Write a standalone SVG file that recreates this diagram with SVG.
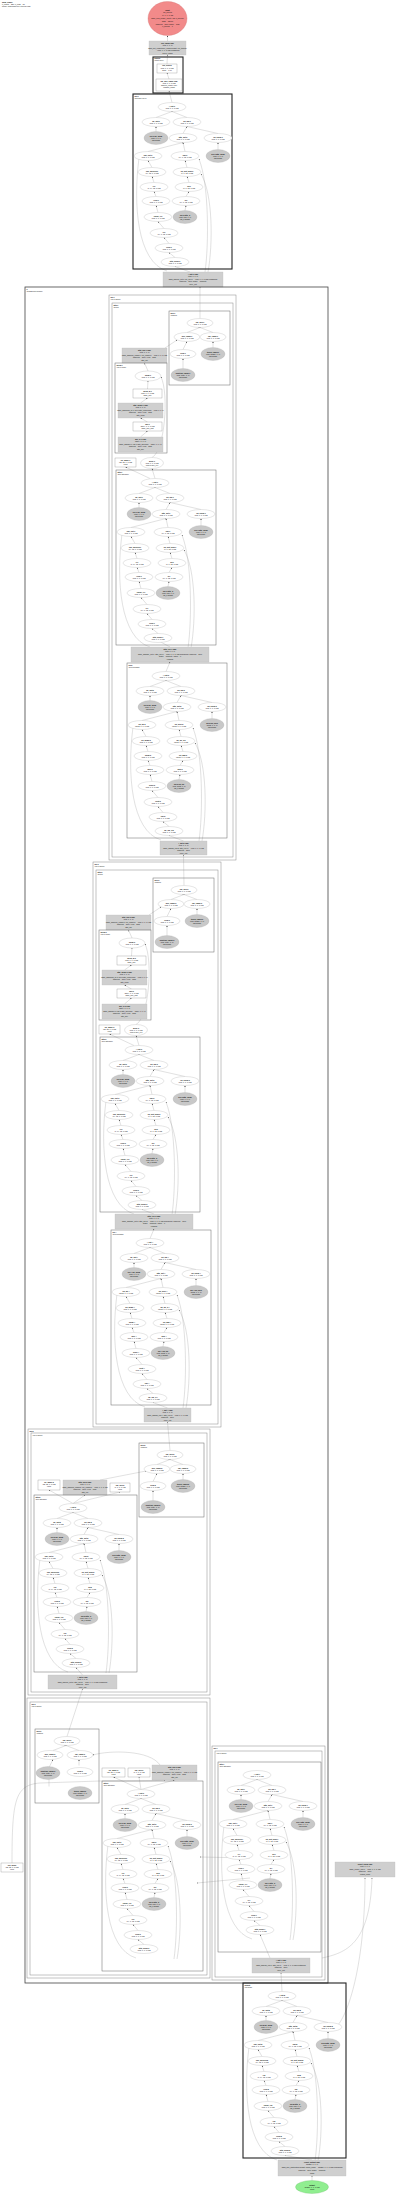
<svg xmlns="http://www.w3.org/2000/svg" xmlns:xlink="http://www.w3.org/1999/xlink" width="400" height="2195" viewBox="0 0 400 2195">
<style>
text{font-family:"Liberation Sans",Arial,sans-serif;font-size:1.8px;text-anchor:middle;fill:#111}
.b{font-weight:bold}
.l{text-anchor:start}
.w{fill:#fff;stroke:#999;stroke-width:.25}
.g{fill:#c8c8c8;stroke:#aaa;stroke-width:.25}
.wb{fill:#fff;stroke:#777;stroke-width:.3}
.gb{fill:#cfcfcf;stroke:#bbb;stroke-width:.3}
.cl{fill:none;stroke:#666;stroke-width:.5}
.cs{fill:none;stroke:#888;stroke-width:.5}
.ck{fill:none;stroke:#222;stroke-width:1.1}
.cx{fill:none;stroke:#444;stroke-width:.8}
.ed path{fill:none;stroke:#999;stroke-width:.3;marker-end:url(#ah)}
</style>
<defs>
<marker id="ah" viewBox="0 0 4 4" refX="4" refY="2" markerUnits="userSpaceOnUse" markerWidth="1.4" markerHeight="1.4" orient="auto"><path d="M0,0L4,2L0,4z" fill="#333"/></marker>
<g id="te" class="ed">
<path d="M23,23.5L39,17.5"/><path d="M54,23.5L39,17.5"/><path d="M23,37.5L23,32.5"/><path d="M50,39.5L54,32.5"/><path d="M85,39.5L54,32.5"/><path d="M15,57.5L50,48.5"/><path d="M52,57.5L50,48.5"/><path d="M85,55.5L85,48.5"/><path d="M19,73.5L15,66.5"/><path d="M54,73.5L52,66.5"/><path d="M21,88.5L19,82.5"/><path d="M56,88.5L54,82.5"/><path d="M23,102.5L21,97.5"/><path d="M53,102.5L56,97.5"/><path d="M25,118.5L23,111.5"/><path d="M52,116.5L53,111.5"/><path d="M31,134.5L25,127.5"/><path d="M36,149.5L31,143.5"/><path d="M42,163.5L36,158.5"/>
<path d="M72,178C76,150 76,90 66,65"/><path d="M75,178C80,150 80,100 68,80"/><path d="M34,177C4,168 0,110 6,64"/>
</g>
<g id="t1" class="ed"><path d="M18,21.5L31,16.5"/><path d="M44,21.5L31,16.5"/><path d="M14,38.5L18,30.5"/><path d="M44,36.5L44,30.5"/><path d="M14,57.5L14,47.5"/></g>
<g id="t2" class="ed"><path d="M32.5,26L33,18"/><path d="M25.5,40L32.5,35"/><path d="M32.5,59L25.5,55"/><path d="M25.5,74L32.5,68"/><path d="M37,94.5C50,88 54,30 46,14"/></g>
</defs>
<rect width="400" height="2195" fill="#fff"/>
<g id="title"><text class="l b" x="2" y="2.6">ggml_graph</text><text class="l" x="2" y="4.6">n_nodes = 226, n_leafs = 87</text><text class="l" x="2" y="6.6">model: gpt2 graph for 7 tokens (f32)</text></g>

<g id="edges">
<g class="ed">
<path d="M167.5,41L167.5,35.5"/><path d="M167,64L167.5,55"/><path d="M169,79L167,73"/><path d="M172,102.5L169,91"/><path d="M190,272L175,266.5"/>
<path d="M200,318.5L200,287"/><path d="M165,348L177,340"/><path d="M148,371L144.5,363"/><path d="M150,478.5L125.5,467"/><path d="M155,478.5L152,468.5"/><path d="M170,647L158,640.5"/><path d="M166,671.5L170,662"/><path d="M183.5,841L169,835.5"/><path d="M184,885.5L183.5,855"/>
<path d="M149,915L161,907"/><path d="M132,938L128.5,930"/><path d="M134,1045.5L109.5,1034"/><path d="M139,1045.5L136,1035.5"/><path d="M154,1214L142,1209.5"/><path d="M150,1238.5L154,1229"/><path d="M167.5,1408L153,1402.5"/><path d="M170,1450.5L167.5,1422"/>
<path d="M100,1480L146,1471"/><path d="M73,1503.5L85,1495"/><path d="M73,1503.5L49,1490"/><path d="M73,1503.5L120,1492"/><path d="M82.5,1675L76,1667.5"/><path d="M67,1736.5L82.5,1689"/>
<path d="M12,1863C12,1800 15,1785 40,1783L100,1781C130,1781 155,1781 165,1780"/><path d="M141,1789.5L113.5,1777"/><path d="M141,1789.5L139,1777"/><path d="M141,1789.5L174.5,1780"/><path d="M160,1765C150,1750 110,1750 93,1755"/>
<path d="M250,1858L200,1857"/><path d="M250,1878L197,1883"/><path d="M270,1958L260,1934.5"/><path d="M282,1991.5L281,1973"/><path d="M312,2160L285,2155.5"/><path d="M312,2180.5L312,2176"/>
<path d="M338,2025C350,2010 365,1960 365,1878"/><path d="M322,1958C345,1953 370,1945 372,1878"/>
</g>
<use href="#te" transform="translate(133,94)"/><use href="#te" transform="translate(116,470)"/><use href="#te" transform="translate(127,663)"/><use href="#te" transform="translate(100,1037)"/><use href="#te" transform="translate(111,1230)"/><use href="#te" transform="translate(34,1495)"/><use href="#te" transform="translate(102,1781)"/><use href="#te" transform="translate(218,1762)"/><use href="#te" transform="translate(243,1983)"/>
<use href="#t1" transform="translate(169,311)"/><use href="#t1" transform="translate(153,878)"/><use href="#t1" transform="translate(139,1443)"/><use href="#t1" transform="translate(35,1729)"/>
<use href="#t2" transform="translate(115,363)"/><use href="#t2" transform="translate(99,930)"/>
</g>

<g id="n_in"><ellipse cx="167.5" cy="18.5" rx="19.5" ry="17" fill="#f28a8a" stroke="#c66" stroke-width=".3"/><text x="167.5" y="10.5"><tspan class="b">input</tspan><tspan x="167.5" dy="2.8">inp_tokens</tspan><tspan x="167.5" dy="2.8">(7, 1, 1, 1) i32</tspan><tspan x="167.5" dy="2.8">ggml_new_tensor_1d(ctx, I32, n_tokens)</tspan><tspan x="167.5" dy="2.8">flags = INPUT</tspan><tspan x="167.5" dy="2.8">backend = CPU, buffer = host</tspan><tspan x="167.5" dy="2.8">n_tokens = 7</tspan></text></g>
<g id="gb0"><rect class="gb" x="149" y="41" width="37" height="14"/><text x="167.5" y="43.5"><tspan class="b">inp_embd (f32)</tspan><tspan x="167.5" dy="2.6">(768, 7, 1, 1)</tspan><tspan x="167.5" dy="2.6">ggml_get_rows(token_embd.weight, inp_tokens)</tspan><tspan x="167.5" dy="2.6">= (768, 7, 1, 1) f32 contiguous</tspan><tspan x="167.5" dy="2.6">token_embd</tspan></text></g>
<g id="k1"><rect class="ck" x="153" y="57" width="30" height="36"/><text class="l b" x="154.3" y="59.4">embed</text><text class="l" x="154.3" y="61.3">(input layer)</text>
<g id="b1"><rect class="wb" x="157" y="64" width="20" height="9"/><text x="167" y="66.4"><tspan class="b">inp_scaled</tspan><tspan x="167" dy="2.1">(768, 7, 1, 1) f32</tspan><tspan x="167" dy="2.1">scale = 1.00</tspan></text></g>
<g id="b2"><rect class="wb" x="156" y="79" width="26" height="12"/><text x="169" y="81.5"><tspan class="b">inp_pos_embd (f32)</tspan><tspan x="169" dy="2.2">(768, 7, 1, 1) f32</tspan><tspan x="169" dy="2.2">add(inp_embd, pos)</tspan><tspan x="169" dy="2.2">position_embd</tspan></text></g>
</g>

<g id="k2" transform="translate(133,94)"><rect class="ck" width="99" height="175"/><text class="l b" x="1.5" y="2.6">blk.0</text><text class="l" x="1.5" y="4.5">(decoder layer)</text>
<g id="k2_0"><ellipse class="w" cx="39" cy="13" rx="14" ry="4.5"/><text x="39" y="12.7"><tspan class="b">l_out-0</tspan><tspan x="39" dy="2">(768, 7, 1, 1) f32</tspan></text></g>
<g id="k2_1"><ellipse class="w" cx="23" cy="28" rx="14" ry="4.5"/><text x="23" y="27.7"><tspan class="b">ffn_out-0</tspan><tspan x="23" dy="2">(768, 7, 1, 1) f32</tspan></text></g>
<g id="k2_2"><ellipse class="w" cx="54" cy="28" rx="14" ry="4.5"/><text x="54" y="27.7"><tspan class="b">ffn_inp-0</tspan><tspan x="54" dy="2">(768, 7, 1, 1) f32</tspan></text></g>
<g id="k2_3"><ellipse class="g" cx="23" cy="44" rx="12" ry="6.5"/><text x="23" y="42.6"><tspan class="b">blk.0.ffn_norm</tspan><tspan x="23" dy="2">(768, 1, 1, 1)</tspan><tspan x="23" dy="2">f32 weight</tspan></text></g>
<g id="k2_4"><ellipse class="w" cx="50" cy="44" rx="14" ry="4.5"/><text x="50" y="43.7"><tspan class="b">attn_out-0</tspan><tspan x="50" dy="2">(768, 7, 1, 1) f32</tspan></text></g>
<g id="k2_5"><ellipse class="w" cx="85" cy="44" rx="14" ry="4.5"/><text x="85" y="43.7"><tspan class="b">ffn_norm-0</tspan><tspan x="85" dy="2">(768, 7, 1, 1) f32</tspan></text></g>
<g id="k2_6"><ellipse class="w" cx="15" cy="62" rx="14" ry="4.5"/><text x="15" y="61.7"><tspan class="b">kqv_out-0</tspan><tspan x="15" dy="2">(768, 7, 1, 1) f32</tspan></text></g>
<g id="k2_7"><ellipse class="w" cx="52" cy="62" rx="14" ry="4.5"/><text x="52" y="61.7"><tspan class="b">kqv-0</tspan><tspan x="52" dy="2">(64, 7, 12, 1) f32</tspan></text></g>
<g id="k2_8"><ellipse class="g" cx="85" cy="62" rx="12" ry="6.5"/><text x="85" y="60.6"><tspan class="b">blk.0.attn_norm</tspan><tspan x="85" dy="2">(768, 1, 1, 1)</tspan><tspan x="85" dy="2">f32 weight</tspan></text></g>
<g id="k2_9"><ellipse class="w" cx="19" cy="78" rx="14" ry="4.5"/><text x="19" y="77.7"><tspan class="b">kqv_merged-0</tspan><tspan x="19" dy="2">(64, 12, 7, 1) f32</tspan></text></g>
<g id="k2_10"><ellipse class="w" cx="54" cy="78" rx="14" ry="4.5"/><text x="54" y="77.7"><tspan class="b">kq_soft_max-0</tspan><tspan x="54" dy="2">(7, 7, 12, 1) f32</tspan></text></g>
<g id="k2_11"><ellipse class="w" cx="21" cy="93" rx="14" ry="4.5"/><text x="21" y="92.7"><tspan class="b">v-0</tspan><tspan x="21" dy="2">(7, 64, 12, 1) f32</tspan></text></g>
<g id="k2_12"><ellipse class="w" cx="56" cy="93" rx="14" ry="4.5"/><text x="56" y="92.7"><tspan class="b">kq-0</tspan><tspan x="56" dy="2">(7, 7, 12, 1) f32</tspan></text></g>
<g id="k2_13"><ellipse class="w" cx="23" cy="107" rx="14" ry="4.5"/><text x="23" y="106.7"><tspan class="b">Vcur-0</tspan><tspan x="23" dy="2">(768, 7, 1, 1) f32</tspan></text></g>
<g id="k2_14"><ellipse class="w" cx="53" cy="107" rx="14" ry="4.5"/><text x="53" y="106.7"><tspan class="b">q-0</tspan><tspan x="53" dy="2">(64, 7, 12, 1) f32</tspan></text></g>
<g id="k2_15"><ellipse class="w" cx="25" cy="123" rx="14" ry="4.5"/><text x="25" y="122.7"><tspan class="b">cache_v-0</tspan><tspan x="25" dy="2">(768, 7, 1, 1) f32</tspan></text></g>
<g id="k2_16"><ellipse class="g" cx="52" cy="123" rx="12" ry="6.5"/><text x="52" y="121.6"><tspan class="b">blk.0.attn_q</tspan><tspan x="52" dy="2">(768, 768, 1, 1)</tspan><tspan x="52" dy="2">q8_0 weight</tspan></text></g>
<g id="k2_17"><ellipse class="w" cx="31" cy="139" rx="14" ry="4.5"/><text x="31" y="138.7"><tspan class="b">k-0</tspan><tspan x="31" dy="2">(64, 7, 12, 1) f32</tspan></text></g>
<g id="k2_18"><ellipse class="w" cx="36" cy="154" rx="14" ry="4.5"/><text x="36" y="153.7"><tspan class="b">Kcur-0</tspan><tspan x="36" dy="2">(768, 7, 1, 1) f32</tspan></text></g>
<g id="k2_19"><ellipse class="w" cx="42" cy="168" rx="14" ry="4.5"/><text x="42" y="167.7"><tspan class="b">attn_norm-0</tspan><tspan x="42" dy="2">(768, 7, 1, 1) f32</tspan></text></g>
</g>
<g id="gb1"><rect class="gb" x="163" y="272" width="60" height="15"/><text x="193" y="274.6"><tspan class="b">l_out-0 (f32)</tspan><tspan x="193" dy="2.6">(768, 7, 1, 1)</tspan><tspan x="193" dy="2.6">ggml_add(ffn_out-0, ffn_inp-0) = (768, 7, 1, 1) f32 contiguous</tspan><tspan x="193" dy="2.6">backend = CPU, buffer = compute</tspan><tspan x="193" dy="2.6">layer_out</tspan></text></g>

<g id="cx"><rect class="cx" x="25" y="287" width="303" height="1696"/><text class="l b" x="26.5" y="289.6">x</text><text class="l" x="26.5" y="291.5">(transformer blocks)</text></g>

<g id="sa"><rect class="cs" x="109" y="295" width="127" height="565"/><rect class="cs" x="112" y="303" width="121" height="554"/><text class="l b" x="110.5" y="297.6">blk.1</text><text class="l" x="110.5" y="299.5">(layer group)</text><text class="l b" x="113.5" y="305.6">attn.1</text><text class="l" x="113.5" y="307.5">(block)</text>
<g id="c1a" transform="translate(169,311)"><rect class="cl" width="61" height="74"/><text class="l b" x="1.5" y="2.6">pos.1</text><text class="l" x="1.5" y="4.5">(embed)</text>
<g id="c1a_0"><ellipse class="w" cx="31" cy="12" rx="13" ry="4.5"/><text x="31" y="11.7"><tspan class="b">inp_pos-1</tspan><tspan x="31" dy="2">(768, 7, 1, 1) f32</tspan></text></g>
<g id="c1a_1"><ellipse class="w" cx="18" cy="26" rx="13" ry="4.5"/><text x="18" y="25.7"><tspan class="b">pos_embd-1</tspan><tspan x="18" dy="2">(768, 7, 1, 1) f32</tspan></text></g>
<g id="c1a_2"><ellipse class="w" cx="44" cy="26" rx="13" ry="4.5"/><text x="44" y="25.7"><tspan class="b">inp_embd-1</tspan><tspan x="44" dy="2">(768, 7, 1, 1) f32</tspan></text></g>
<g id="c1a_3"><ellipse class="w" cx="14" cy="43" rx="13" ry="4.5"/><text x="14" y="42.7"><tspan class="b">view-1</tspan><tspan x="14" dy="2">(768, 7, 1, 1) f32</tspan></text></g>
<g id="c1a_4"><ellipse class="g" cx="44" cy="43" rx="12" ry="6.5"/><text x="44" y="41.6"><tspan class="b">token_embd.1</tspan><tspan x="44" dy="2">(768, 50257, 1, 1)</tspan><tspan x="44" dy="2">f32 weight</tspan></text></g>
<g id="c1a_5"><ellipse class="g" cx="14" cy="64" rx="12" ry="6.5"/><text x="14" y="62.6"><tspan class="b">position_embd.1</tspan><tspan x="14" dy="2">(768, 1024, 1, 1)</tspan><tspan x="14" dy="2">f32 weight</tspan></text></g>
</g>
<g id="gb1a"><rect class="gb" x="122" y="348" width="45" height="15"/><text x="144.5" y="350.6"><tspan class="b">attn_inp-1 (f32)</tspan><tspan x="144.5" dy="2.6">(768, 7, 1, 1)</tspan><tspan x="144.5" dy="2.6">ggml_add(pos_embd-1, inp_embd-1) = (768, 7, 1, 1) f32</tspan><tspan x="144.5" dy="2.6">backend = CPU, view = false</tspan><tspan x="144.5" dy="2.6">attn_inp</tspan></text></g>
<g id="c2a" transform="translate(115,363)"><rect class="cl" width="52" height="90"/><text class="l b" x="1.5" y="2.6">norm.1</text><text class="l" x="1.5" y="4.5">(layer norm)</text>
<g id="c2a_0"><ellipse class="w" cx="33" cy="13" rx="13" ry="5"/><text x="33" y="12.7"><tspan class="b">norm-1</tspan><tspan x="33" dy="2">(768, 7, 1, 1) f32</tspan></text></g>
<g id="c2a_1"><rect class="wb" x="18" y="26" width="29" height="9"/><text x="32.5" y="28.6"><tspan class="b">norm_w-1</tspan><tspan x="32.5" dy="2.1">(768, 7, 1, 1) f32</tspan><tspan x="32.5" dy="2.1">ggml_mul</tspan></text></g>
<g id="c2a_2"><rect class="gb" x="3" y="40" width="45" height="15"/><text x="25.5" y="42.6"><tspan class="b">attn_norm-1 (f32)</tspan><tspan x="25.5" dy="2.6">(768, 7, 1, 1)</tspan><tspan x="25.5" dy="2.6">ggml_add(norm_w-1, blk.1.attn_norm.bias) = (768, 7, 1, 1)</tspan><tspan x="25.5" dy="2.6">backend = CPU, view = false</tspan><tspan x="25.5" dy="2.6">attn_norm</tspan></text></g>
<g id="c2a_3"><rect class="wb" x="18" y="59" width="29" height="9"/><text x="32.5" y="61.6"><tspan class="b">qkv-1</tspan><tspan x="32.5" dy="2.1">(2304, 7, 1, 1) f32</tspan><tspan x="32.5" dy="2.1">ggml_mul_mat</tspan></text></g>
<g id="c2a_4"><rect class="gb" x="3" y="74" width="45" height="15"/><text x="25.5" y="76.6"><tspan class="b">qkv_b-1 (f32)</tspan><tspan x="25.5" dy="2.6">(2304, 7, 1, 1)</tspan><tspan x="25.5" dy="2.6">ggml_add(qkv-1, blk.1.attn_qkv.bias) = (2304, 7, 1, 1)</tspan><tspan x="25.5" dy="2.6">backend = CPU, view = false</tspan><tspan x="25.5" dy="2.6">attn_qkv</tspan></text></g>
</g>
<g id="wba"><rect class="wb" x="115" y="458" width="21" height="9"/><text x="125.5" y="460.6"><tspan class="b">kq_mask-1</tspan><tspan x="125.5" dy="2.1">(32, 32, 1, 1) f32</tspan><tspan x="125.5" dy="2.1">input</tspan></text></g>
<g id="ea"><ellipse class="w" cx="152" cy="463" rx="11.5" ry="5.5"/><text x="152" y="461.5"><tspan class="b">Qcur-1</tspan><tspan x="152" dy="2">(768, 7, 1, 1) f32</tspan><tspan x="152" dy="2">view of qkv_b-1</tspan></text></g>
<g id="c3a" transform="translate(116,470)"><rect class="cl" width="100" height="175"/><text class="l b" x="1.5" y="2.6">attn.1</text><text class="l" x="1.5" y="4.5">(self attention)</text>
<g id="c3a_0"><ellipse class="w" cx="39" cy="13" rx="14" ry="4.5"/><text x="39" y="12.7"><tspan class="b">l_out-1</tspan><tspan x="39" dy="2">(768, 7, 1, 1) f32</tspan></text></g>
<g id="c3a_1"><ellipse class="w" cx="23" cy="28" rx="14" ry="4.5"/><text x="23" y="27.7"><tspan class="b">ffn_out-1</tspan><tspan x="23" dy="2">(768, 7, 1, 1) f32</tspan></text></g>
<g id="c3a_2"><ellipse class="w" cx="54" cy="28" rx="14" ry="4.5"/><text x="54" y="27.7"><tspan class="b">ffn_inp-1</tspan><tspan x="54" dy="2">(768, 7, 1, 1) f32</tspan></text></g>
<g id="c3a_3"><ellipse class="g" cx="23" cy="44" rx="12" ry="6.5"/><text x="23" y="42.6"><tspan class="b">blk.1.ffn_norm</tspan><tspan x="23" dy="2">(768, 1, 1, 1)</tspan><tspan x="23" dy="2">f32 weight</tspan></text></g>
<g id="c3a_4"><ellipse class="w" cx="50" cy="44" rx="14" ry="4.5"/><text x="50" y="43.7"><tspan class="b">attn_out-1</tspan><tspan x="50" dy="2">(768, 7, 1, 1) f32</tspan></text></g>
<g id="c3a_5"><ellipse class="w" cx="85" cy="44" rx="14" ry="4.5"/><text x="85" y="43.7"><tspan class="b">ffn_norm-1</tspan><tspan x="85" dy="2">(768, 7, 1, 1) f32</tspan></text></g>
<g id="c3a_6"><ellipse class="w" cx="15" cy="62" rx="14" ry="4.5"/><text x="15" y="61.7"><tspan class="b">kqv_out-1</tspan><tspan x="15" dy="2">(768, 7, 1, 1) f32</tspan></text></g>
<g id="c3a_7"><ellipse class="w" cx="52" cy="62" rx="14" ry="4.5"/><text x="52" y="61.7"><tspan class="b">kqv-1</tspan><tspan x="52" dy="2">(64, 7, 12, 1) f32</tspan></text></g>
<g id="c3a_8"><ellipse class="g" cx="85" cy="62" rx="12" ry="6.5"/><text x="85" y="60.6"><tspan class="b">blk.1.attn_norm</tspan><tspan x="85" dy="2">(768, 1, 1, 1)</tspan><tspan x="85" dy="2">f32 weight</tspan></text></g>
<g id="c3a_9"><ellipse class="w" cx="19" cy="78" rx="14" ry="4.5"/><text x="19" y="77.7"><tspan class="b">kqv_merged-1</tspan><tspan x="19" dy="2">(64, 12, 7, 1) f32</tspan></text></g>
<g id="c3a_10"><ellipse class="w" cx="54" cy="78" rx="14" ry="4.5"/><text x="54" y="77.7"><tspan class="b">kq_soft_max-1</tspan><tspan x="54" dy="2">(7, 7, 12, 1) f32</tspan></text></g>
<g id="c3a_11"><ellipse class="w" cx="21" cy="93" rx="14" ry="4.5"/><text x="21" y="92.7"><tspan class="b">v-1</tspan><tspan x="21" dy="2">(7, 64, 12, 1) f32</tspan></text></g>
<g id="c3a_12"><ellipse class="w" cx="56" cy="93" rx="14" ry="4.5"/><text x="56" y="92.7"><tspan class="b">kq-1</tspan><tspan x="56" dy="2">(7, 7, 12, 1) f32</tspan></text></g>
<g id="c3a_13"><ellipse class="w" cx="23" cy="107" rx="14" ry="4.5"/><text x="23" y="106.7"><tspan class="b">Vcur-1</tspan><tspan x="23" dy="2">(768, 7, 1, 1) f32</tspan></text></g>
<g id="c3a_14"><ellipse class="w" cx="53" cy="107" rx="14" ry="4.5"/><text x="53" y="106.7"><tspan class="b">q-1</tspan><tspan x="53" dy="2">(64, 7, 12, 1) f32</tspan></text></g>
<g id="c3a_15"><ellipse class="w" cx="25" cy="123" rx="14" ry="4.5"/><text x="25" y="122.7"><tspan class="b">cache_v-1</tspan><tspan x="25" dy="2">(768, 7, 1, 1) f32</tspan></text></g>
<g id="c3a_16"><ellipse class="g" cx="52" cy="123" rx="12" ry="6.5"/><text x="52" y="121.6"><tspan class="b">blk.1.attn_q</tspan><tspan x="52" dy="2">(768, 768, 1, 1)</tspan><tspan x="52" dy="2">q8_0 weight</tspan></text></g>
<g id="c3a_17"><ellipse class="w" cx="31" cy="139" rx="14" ry="4.5"/><text x="31" y="138.7"><tspan class="b">k-1</tspan><tspan x="31" dy="2">(64, 7, 12, 1) f32</tspan></text></g>
<g id="c3a_18"><ellipse class="w" cx="36" cy="154" rx="14" ry="4.5"/><text x="36" y="153.7"><tspan class="b">Kcur-1</tspan><tspan x="36" dy="2">(768, 7, 1, 1) f32</tspan></text></g>
<g id="c3a_19"><ellipse class="w" cx="42" cy="168" rx="14" ry="4.5"/><text x="42" y="167.7"><tspan class="b">attn_norm-1</tspan><tspan x="42" dy="2">(768, 7, 1, 1) f32</tspan></text></g>
</g>
<g id="gb2a"><rect class="gb" x="131" y="647" width="78" height="15"/><text x="170" y="649.6"><tspan class="b">attn_res-1 (f32)</tspan><tspan x="170" dy="2.6">(768, 7, 1, 1)</tspan><tspan x="170" dy="2.6">ggml_add(kqv_out-1, attn_inp-1) = (768, 7, 1, 1) f32 contiguous, backend = CPU</tspan><tspan x="170" dy="2.6">buffer = compute, offset = 0</tspan><tspan x="170" dy="2.6">residual</tspan></text></g>
<g id="c4a" transform="translate(127,663)"><rect class="cl" width="100" height="175"/><text class="l b" x="1.5" y="2.6">ffn.2</text><text class="l" x="1.5" y="4.5">(feed forward)</text>
<g id="c4a_0"><ellipse class="w" cx="39" cy="13" rx="14" ry="4.5"/><text x="39" y="12.7"><tspan class="b">l_out-2</tspan><tspan x="39" dy="2">(768, 7, 1, 1) f32</tspan></text></g>
<g id="c4a_1"><ellipse class="w" cx="23" cy="28" rx="14" ry="4.5"/><text x="23" y="27.7"><tspan class="b">ffn_out-2</tspan><tspan x="23" dy="2">(768, 7, 1, 1) f32</tspan></text></g>
<g id="c4a_2"><ellipse class="w" cx="54" cy="28" rx="14" ry="4.5"/><text x="54" y="27.7"><tspan class="b">ffn_inp-2</tspan><tspan x="54" dy="2">(768, 7, 1, 1) f32</tspan></text></g>
<g id="c4a_3"><ellipse class="g" cx="23" cy="44" rx="12" ry="6.5"/><text x="23" y="42.6"><tspan class="b">blk.2.ffn_norm</tspan><tspan x="23" dy="2">(768, 1, 1, 1)</tspan><tspan x="23" dy="2">f32 weight</tspan></text></g>
<g id="c4a_4"><ellipse class="w" cx="50" cy="44" rx="14" ry="4.5"/><text x="50" y="43.7"><tspan class="b">attn_out-2</tspan><tspan x="50" dy="2">(768, 7, 1, 1) f32</tspan></text></g>
<g id="c4a_5"><ellipse class="w" cx="85" cy="44" rx="14" ry="4.5"/><text x="85" y="43.7"><tspan class="b">ffn_norm-2</tspan><tspan x="85" dy="2">(768, 7, 1, 1) f32</tspan></text></g>
<g id="c4a_6"><ellipse class="w" cx="15" cy="62" rx="14" ry="4.5"/><text x="15" y="61.7"><tspan class="b">ffn_up-2</tspan><tspan x="15" dy="2">(3072, 7, 1, 1) f32</tspan></text></g>
<g id="c4a_7"><ellipse class="w" cx="52" cy="62" rx="14" ry="4.5"/><text x="52" y="61.7"><tspan class="b">ffn_gelu-2</tspan><tspan x="52" dy="2">(3072, 7, 1, 1) f32</tspan></text></g>
<g id="c4a_8"><ellipse class="g" cx="85" cy="62" rx="12" ry="6.5"/><text x="85" y="60.6"><tspan class="b">blk.2.ffn_up.b</tspan><tspan x="85" dy="2">(3072, 1, 1, 1)</tspan><tspan x="85" dy="2">f32 weight</tspan></text></g>
<g id="c4a_9"><ellipse class="w" cx="19" cy="78" rx="14" ry="4.5"/><text x="19" y="77.7"><tspan class="b">ffn_down-2</tspan><tspan x="19" dy="2">(768, 7, 1, 1) f32</tspan></text></g>
<g id="c4a_10"><ellipse class="w" cx="54" cy="78" rx="14" ry="4.5"/><text x="54" y="77.7"><tspan class="b">ffn_up_b-2</tspan><tspan x="54" dy="2">(3072, 7, 1, 1) f32</tspan></text></g>
<g id="c4a_11"><ellipse class="w" cx="21" cy="93" rx="14" ry="4.5"/><text x="21" y="92.7"><tspan class="b">norm-2</tspan><tspan x="21" dy="2">(768, 7, 1, 1) f32</tspan></text></g>
<g id="c4a_12"><ellipse class="w" cx="56" cy="93" rx="14" ry="4.5"/><text x="56" y="92.7"><tspan class="b">ffn_mm-2</tspan><tspan x="56" dy="2">(3072, 7, 1, 1) f32</tspan></text></g>
<g id="c4a_13"><ellipse class="w" cx="23" cy="107" rx="14" ry="4.5"/><text x="23" y="106.7"><tspan class="b">mul-2</tspan><tspan x="23" dy="2">(768, 7, 1, 1) f32</tspan></text></g>
<g id="c4a_14"><ellipse class="w" cx="53" cy="107" rx="14" ry="4.5"/><text x="53" y="106.7"><tspan class="b">add-2</tspan><tspan x="53" dy="2">(768, 7, 1, 1) f32</tspan></text></g>
<g id="c4a_15"><ellipse class="w" cx="25" cy="123" rx="14" ry="4.5"/><text x="25" y="122.7"><tspan class="b">scale-2</tspan><tspan x="25" dy="2">(768, 7, 1, 1) f32</tspan></text></g>
<g id="c4a_16"><ellipse class="g" cx="52" cy="123" rx="12" ry="6.5"/><text x="52" y="121.6"><tspan class="b">blk.2.ffn_up</tspan><tspan x="52" dy="2">(768, 3072, 1, 1)</tspan><tspan x="52" dy="2">q8_0 weight</tspan></text></g>
<g id="c4a_17"><ellipse class="w" cx="31" cy="139" rx="14" ry="4.5"/><text x="31" y="138.7"><tspan class="b">cont-2</tspan><tspan x="31" dy="2">(768, 7, 1, 1) f32</tspan></text></g>
<g id="c4a_18"><ellipse class="w" cx="36" cy="154" rx="14" ry="4.5"/><text x="36" y="153.7"><tspan class="b">cpy-2</tspan><tspan x="36" dy="2">(768, 7, 1, 1) f32</tspan></text></g>
<g id="c4a_19"><ellipse class="w" cx="42" cy="168" rx="14" ry="4.5"/><text x="42" y="167.7"><tspan class="b">ffn_inp_n-2</tspan><tspan x="42" dy="2">(768, 7, 1, 1) f32</tspan></text></g>
</g>
<g id="gb3a"><rect class="gb" x="160" y="841" width="47" height="14"/><text x="183.5" y="843.5"><tspan class="b">l_out-2 (f32)</tspan><tspan x="183.5" dy="2.5">(768, 7, 1, 1)</tspan><tspan x="183.5" dy="2.5">ggml_add(ffn_out-2, attn_res-1) = (768, 7, 1, 1) f32</tspan><tspan x="183.5" dy="2.5">backend = CPU</tspan><tspan x="183.5" dy="2.5">layer_out</tspan></text></g>
</g>

<g id="sb"><rect class="cs" x="93" y="862" width="128" height="565"/><rect class="cs" x="96" y="870" width="122" height="554"/><text class="l b" x="94.5" y="864.6">blk.3</text><text class="l" x="94.5" y="866.5">(layer group)</text><text class="l b" x="97.5" y="872.6">attn.3</text><text class="l" x="97.5" y="874.5">(block)</text>
<g id="c1b" transform="translate(153,878)"><rect class="cl" width="61" height="74"/><text class="l b" x="1.5" y="2.6">pos.3</text><text class="l" x="1.5" y="4.5">(embed)</text>
<g id="c1b_0"><ellipse class="w" cx="31" cy="12" rx="13" ry="4.5"/><text x="31" y="11.7"><tspan class="b">inp_pos-3</tspan><tspan x="31" dy="2">(768, 7, 1, 1) f32</tspan></text></g>
<g id="c1b_1"><ellipse class="w" cx="18" cy="26" rx="13" ry="4.5"/><text x="18" y="25.7"><tspan class="b">pos_embd-3</tspan><tspan x="18" dy="2">(768, 7, 1, 1) f32</tspan></text></g>
<g id="c1b_2"><ellipse class="w" cx="44" cy="26" rx="13" ry="4.5"/><text x="44" y="25.7"><tspan class="b">inp_embd-3</tspan><tspan x="44" dy="2">(768, 7, 1, 1) f32</tspan></text></g>
<g id="c1b_3"><ellipse class="w" cx="14" cy="43" rx="13" ry="4.5"/><text x="14" y="42.7"><tspan class="b">view-3</tspan><tspan x="14" dy="2">(768, 7, 1, 1) f32</tspan></text></g>
<g id="c1b_4"><ellipse class="g" cx="44" cy="43" rx="12" ry="6.5"/><text x="44" y="41.6"><tspan class="b">token_embd.3</tspan><tspan x="44" dy="2">(768, 50257, 1, 1)</tspan><tspan x="44" dy="2">f32 weight</tspan></text></g>
<g id="c1b_5"><ellipse class="g" cx="14" cy="64" rx="12" ry="6.5"/><text x="14" y="62.6"><tspan class="b">position_embd.3</tspan><tspan x="14" dy="2">(768, 1024, 1, 1)</tspan><tspan x="14" dy="2">f32 weight</tspan></text></g>
</g>
<g id="gb1b"><rect class="gb" x="106" y="915" width="45" height="15"/><text x="128.5" y="917.6"><tspan class="b">attn_inp-3 (f32)</tspan><tspan x="128.5" dy="2.6">(768, 7, 1, 1)</tspan><tspan x="128.5" dy="2.6">ggml_add(pos_embd-3, inp_embd-3) = (768, 7, 1, 1) f32</tspan><tspan x="128.5" dy="2.6">backend = CPU, view = false</tspan><tspan x="128.5" dy="2.6">attn_inp</tspan></text></g>
<g id="c2b" transform="translate(99,930)"><rect class="cl" width="52" height="90"/><text class="l b" x="1.5" y="2.6">norm.3</text><text class="l" x="1.5" y="4.5">(layer norm)</text>
<g id="c2b_0"><ellipse class="w" cx="33" cy="13" rx="13" ry="5"/><text x="33" y="12.7"><tspan class="b">norm-3</tspan><tspan x="33" dy="2">(768, 7, 1, 1) f32</tspan></text></g>
<g id="c2b_1"><rect class="wb" x="18" y="26" width="29" height="9"/><text x="32.5" y="28.6"><tspan class="b">norm_w-3</tspan><tspan x="32.5" dy="2.1">(768, 7, 1, 1) f32</tspan><tspan x="32.5" dy="2.1">ggml_mul</tspan></text></g>
<g id="c2b_2"><rect class="gb" x="3" y="40" width="45" height="15"/><text x="25.5" y="42.6"><tspan class="b">attn_norm-3 (f32)</tspan><tspan x="25.5" dy="2.6">(768, 7, 1, 1)</tspan><tspan x="25.5" dy="2.6">ggml_add(norm_w-3, blk.3.attn_norm.bias) = (768, 7, 1, 1)</tspan><tspan x="25.5" dy="2.6">backend = CPU, view = false</tspan><tspan x="25.5" dy="2.6">attn_norm</tspan></text></g>
<g id="c2b_3"><rect class="wb" x="18" y="59" width="29" height="9"/><text x="32.5" y="61.6"><tspan class="b">qkv-3</tspan><tspan x="32.5" dy="2.1">(2304, 7, 1, 1) f32</tspan><tspan x="32.5" dy="2.1">ggml_mul_mat</tspan></text></g>
<g id="c2b_4"><rect class="gb" x="3" y="74" width="45" height="15"/><text x="25.5" y="76.6"><tspan class="b">qkv_b-3 (f32)</tspan><tspan x="25.5" dy="2.6">(2304, 7, 1, 1)</tspan><tspan x="25.5" dy="2.6">ggml_add(qkv-3, blk.3.attn_qkv.bias) = (2304, 7, 1, 1)</tspan><tspan x="25.5" dy="2.6">backend = CPU, view = false</tspan><tspan x="25.5" dy="2.6">attn_qkv</tspan></text></g>
</g>
<g id="wbb"><rect class="wb" x="99" y="1025" width="21" height="9"/><text x="109.5" y="1027.6"><tspan class="b">kq_mask-3</tspan><tspan x="109.5" dy="2.1">(32, 32, 1, 1) f32</tspan><tspan x="109.5" dy="2.1">input</tspan></text></g>
<g id="eb"><ellipse class="w" cx="136" cy="1030" rx="11.5" ry="5.5"/><text x="136" y="1028.5"><tspan class="b">Qcur-3</tspan><tspan x="136" dy="2">(768, 7, 1, 1) f32</tspan><tspan x="136" dy="2">view of qkv_b-3</tspan></text></g>
<g id="c3b" transform="translate(100,1037)"><rect class="cl" width="100" height="175"/><text class="l b" x="1.5" y="2.6">attn.3</text><text class="l" x="1.5" y="4.5">(self attention)</text>
<g id="c3b_0"><ellipse class="w" cx="39" cy="13" rx="14" ry="4.5"/><text x="39" y="12.7"><tspan class="b">l_out-3</tspan><tspan x="39" dy="2">(768, 7, 1, 1) f32</tspan></text></g>
<g id="c3b_1"><ellipse class="w" cx="23" cy="28" rx="14" ry="4.5"/><text x="23" y="27.7"><tspan class="b">ffn_out-3</tspan><tspan x="23" dy="2">(768, 7, 1, 1) f32</tspan></text></g>
<g id="c3b_2"><ellipse class="w" cx="54" cy="28" rx="14" ry="4.5"/><text x="54" y="27.7"><tspan class="b">ffn_inp-3</tspan><tspan x="54" dy="2">(768, 7, 1, 1) f32</tspan></text></g>
<g id="c3b_3"><ellipse class="g" cx="23" cy="44" rx="12" ry="6.5"/><text x="23" y="42.6"><tspan class="b">blk.3.ffn_norm</tspan><tspan x="23" dy="2">(768, 1, 1, 1)</tspan><tspan x="23" dy="2">f32 weight</tspan></text></g>
<g id="c3b_4"><ellipse class="w" cx="50" cy="44" rx="14" ry="4.5"/><text x="50" y="43.7"><tspan class="b">attn_out-3</tspan><tspan x="50" dy="2">(768, 7, 1, 1) f32</tspan></text></g>
<g id="c3b_5"><ellipse class="w" cx="85" cy="44" rx="14" ry="4.5"/><text x="85" y="43.7"><tspan class="b">ffn_norm-3</tspan><tspan x="85" dy="2">(768, 7, 1, 1) f32</tspan></text></g>
<g id="c3b_6"><ellipse class="w" cx="15" cy="62" rx="14" ry="4.5"/><text x="15" y="61.7"><tspan class="b">kqv_out-3</tspan><tspan x="15" dy="2">(768, 7, 1, 1) f32</tspan></text></g>
<g id="c3b_7"><ellipse class="w" cx="52" cy="62" rx="14" ry="4.5"/><text x="52" y="61.7"><tspan class="b">kqv-3</tspan><tspan x="52" dy="2">(64, 7, 12, 1) f32</tspan></text></g>
<g id="c3b_8"><ellipse class="g" cx="85" cy="62" rx="12" ry="6.5"/><text x="85" y="60.6"><tspan class="b">blk.3.attn_norm</tspan><tspan x="85" dy="2">(768, 1, 1, 1)</tspan><tspan x="85" dy="2">f32 weight</tspan></text></g>
<g id="c3b_9"><ellipse class="w" cx="19" cy="78" rx="14" ry="4.5"/><text x="19" y="77.7"><tspan class="b">kqv_merged-3</tspan><tspan x="19" dy="2">(64, 12, 7, 1) f32</tspan></text></g>
<g id="c3b_10"><ellipse class="w" cx="54" cy="78" rx="14" ry="4.5"/><text x="54" y="77.7"><tspan class="b">kq_soft_max-3</tspan><tspan x="54" dy="2">(7, 7, 12, 1) f32</tspan></text></g>
<g id="c3b_11"><ellipse class="w" cx="21" cy="93" rx="14" ry="4.5"/><text x="21" y="92.7"><tspan class="b">v-3</tspan><tspan x="21" dy="2">(7, 64, 12, 1) f32</tspan></text></g>
<g id="c3b_12"><ellipse class="w" cx="56" cy="93" rx="14" ry="4.5"/><text x="56" y="92.7"><tspan class="b">kq-3</tspan><tspan x="56" dy="2">(7, 7, 12, 1) f32</tspan></text></g>
<g id="c3b_13"><ellipse class="w" cx="23" cy="107" rx="14" ry="4.5"/><text x="23" y="106.7"><tspan class="b">Vcur-3</tspan><tspan x="23" dy="2">(768, 7, 1, 1) f32</tspan></text></g>
<g id="c3b_14"><ellipse class="w" cx="53" cy="107" rx="14" ry="4.5"/><text x="53" y="106.7"><tspan class="b">q-3</tspan><tspan x="53" dy="2">(64, 7, 12, 1) f32</tspan></text></g>
<g id="c3b_15"><ellipse class="w" cx="25" cy="123" rx="14" ry="4.5"/><text x="25" y="122.7"><tspan class="b">cache_v-3</tspan><tspan x="25" dy="2">(768, 7, 1, 1) f32</tspan></text></g>
<g id="c3b_16"><ellipse class="g" cx="52" cy="123" rx="12" ry="6.5"/><text x="52" y="121.6"><tspan class="b">blk.3.attn_q</tspan><tspan x="52" dy="2">(768, 768, 1, 1)</tspan><tspan x="52" dy="2">q8_0 weight</tspan></text></g>
<g id="c3b_17"><ellipse class="w" cx="31" cy="139" rx="14" ry="4.5"/><text x="31" y="138.7"><tspan class="b">k-3</tspan><tspan x="31" dy="2">(64, 7, 12, 1) f32</tspan></text></g>
<g id="c3b_18"><ellipse class="w" cx="36" cy="154" rx="14" ry="4.5"/><text x="36" y="153.7"><tspan class="b">Kcur-3</tspan><tspan x="36" dy="2">(768, 7, 1, 1) f32</tspan></text></g>
<g id="c3b_19"><ellipse class="w" cx="42" cy="168" rx="14" ry="4.5"/><text x="42" y="167.7"><tspan class="b">attn_norm-3</tspan><tspan x="42" dy="2">(768, 7, 1, 1) f32</tspan></text></g>
</g>
<g id="gb2b"><rect class="gb" x="115" y="1214" width="78" height="15"/><text x="154" y="1216.6"><tspan class="b">attn_res-3 (f32)</tspan><tspan x="154" dy="2.6">(768, 7, 1, 1)</tspan><tspan x="154" dy="2.6">ggml_add(kqv_out-3, attn_inp-3) = (768, 7, 1, 1) f32 contiguous, backend = CPU</tspan><tspan x="154" dy="2.6">buffer = compute, offset = 0</tspan><tspan x="154" dy="2.6">residual</tspan></text></g>
<g id="c4b" transform="translate(111,1230)"><rect class="cl" width="100" height="175"/><text class="l b" x="1.5" y="2.6">ffn.4</text><text class="l" x="1.5" y="4.5">(feed forward)</text>
<g id="c4b_0"><ellipse class="w" cx="39" cy="13" rx="14" ry="4.5"/><text x="39" y="12.7"><tspan class="b">l_out-4</tspan><tspan x="39" dy="2">(768, 7, 1, 1) f32</tspan></text></g>
<g id="c4b_1"><ellipse class="w" cx="23" cy="28" rx="14" ry="4.5"/><text x="23" y="27.7"><tspan class="b">ffn_out-4</tspan><tspan x="23" dy="2">(768, 7, 1, 1) f32</tspan></text></g>
<g id="c4b_2"><ellipse class="w" cx="54" cy="28" rx="14" ry="4.5"/><text x="54" y="27.7"><tspan class="b">ffn_inp-4</tspan><tspan x="54" dy="2">(768, 7, 1, 1) f32</tspan></text></g>
<g id="c4b_3"><ellipse class="g" cx="23" cy="44" rx="12" ry="6.5"/><text x="23" y="42.6"><tspan class="b">blk.4.ffn_norm</tspan><tspan x="23" dy="2">(768, 1, 1, 1)</tspan><tspan x="23" dy="2">f32 weight</tspan></text></g>
<g id="c4b_4"><ellipse class="w" cx="50" cy="44" rx="14" ry="4.5"/><text x="50" y="43.7"><tspan class="b">attn_out-4</tspan><tspan x="50" dy="2">(768, 7, 1, 1) f32</tspan></text></g>
<g id="c4b_5"><ellipse class="w" cx="85" cy="44" rx="14" ry="4.5"/><text x="85" y="43.7"><tspan class="b">ffn_norm-4</tspan><tspan x="85" dy="2">(768, 7, 1, 1) f32</tspan></text></g>
<g id="c4b_6"><ellipse class="w" cx="15" cy="62" rx="14" ry="4.5"/><text x="15" y="61.7"><tspan class="b">ffn_up-4</tspan><tspan x="15" dy="2">(3072, 7, 1, 1) f32</tspan></text></g>
<g id="c4b_7"><ellipse class="w" cx="52" cy="62" rx="14" ry="4.5"/><text x="52" y="61.7"><tspan class="b">ffn_gelu-4</tspan><tspan x="52" dy="2">(3072, 7, 1, 1) f32</tspan></text></g>
<g id="c4b_8"><ellipse class="g" cx="85" cy="62" rx="12" ry="6.5"/><text x="85" y="60.6"><tspan class="b">blk.4.ffn_up.b</tspan><tspan x="85" dy="2">(3072, 1, 1, 1)</tspan><tspan x="85" dy="2">f32 weight</tspan></text></g>
<g id="c4b_9"><ellipse class="w" cx="19" cy="78" rx="14" ry="4.5"/><text x="19" y="77.7"><tspan class="b">ffn_down-4</tspan><tspan x="19" dy="2">(768, 7, 1, 1) f32</tspan></text></g>
<g id="c4b_10"><ellipse class="w" cx="54" cy="78" rx="14" ry="4.5"/><text x="54" y="77.7"><tspan class="b">ffn_up_b-4</tspan><tspan x="54" dy="2">(3072, 7, 1, 1) f32</tspan></text></g>
<g id="c4b_11"><ellipse class="w" cx="21" cy="93" rx="14" ry="4.5"/><text x="21" y="92.7"><tspan class="b">norm-4</tspan><tspan x="21" dy="2">(768, 7, 1, 1) f32</tspan></text></g>
<g id="c4b_12"><ellipse class="w" cx="56" cy="93" rx="14" ry="4.5"/><text x="56" y="92.7"><tspan class="b">ffn_mm-4</tspan><tspan x="56" dy="2">(3072, 7, 1, 1) f32</tspan></text></g>
<g id="c4b_13"><ellipse class="w" cx="23" cy="107" rx="14" ry="4.5"/><text x="23" y="106.7"><tspan class="b">mul-4</tspan><tspan x="23" dy="2">(768, 7, 1, 1) f32</tspan></text></g>
<g id="c4b_14"><ellipse class="w" cx="53" cy="107" rx="14" ry="4.5"/><text x="53" y="106.7"><tspan class="b">add-4</tspan><tspan x="53" dy="2">(768, 7, 1, 1) f32</tspan></text></g>
<g id="c4b_15"><ellipse class="w" cx="25" cy="123" rx="14" ry="4.5"/><text x="25" y="122.7"><tspan class="b">scale-4</tspan><tspan x="25" dy="2">(768, 7, 1, 1) f32</tspan></text></g>
<g id="c4b_16"><ellipse class="g" cx="52" cy="123" rx="12" ry="6.5"/><text x="52" y="121.6"><tspan class="b">blk.4.ffn_up</tspan><tspan x="52" dy="2">(768, 3072, 1, 1)</tspan><tspan x="52" dy="2">q8_0 weight</tspan></text></g>
<g id="c4b_17"><ellipse class="w" cx="31" cy="139" rx="14" ry="4.5"/><text x="31" y="138.7"><tspan class="b">cont-4</tspan><tspan x="31" dy="2">(768, 7, 1, 1) f32</tspan></text></g>
<g id="c4b_18"><ellipse class="w" cx="36" cy="154" rx="14" ry="4.5"/><text x="36" y="153.7"><tspan class="b">cpy-4</tspan><tspan x="36" dy="2">(768, 7, 1, 1) f32</tspan></text></g>
<g id="c4b_19"><ellipse class="w" cx="42" cy="168" rx="14" ry="4.5"/><text x="42" y="167.7"><tspan class="b">ffn_inp_n-4</tspan><tspan x="42" dy="2">(768, 7, 1, 1) f32</tspan></text></g>
</g>
<g id="gb3b"><rect class="gb" x="144" y="1408" width="47" height="14"/><text x="167.5" y="1410.5"><tspan class="b">l_out-4 (f32)</tspan><tspan x="167.5" dy="2.5">(768, 7, 1, 1)</tspan><tspan x="167.5" dy="2.5">ggml_add(ffn_out-4, attn_res-3) = (768, 7, 1, 1) f32</tspan><tspan x="167.5" dy="2.5">backend = CPU</tspan><tspan x="167.5" dy="2.5">layer_out</tspan></text></g>
</g>

<g id="sc"><rect class="cs" x="28" y="1429" width="182" height="266"/><rect class="cs" x="31" y="1433" width="176" height="259"/><text class="l b" x="29.5" y="1431.6">blk.5</text><text class="l" x="32.5" y="1435.6">(layer group)</text>
<g id="c1c" transform="translate(139,1443)"><rect class="cl" width="65" height="74"/><text class="l b" x="1.5" y="2.6">pos.5</text><text class="l" x="1.5" y="4.5">(embed)</text>
<g id="c1c_0"><ellipse class="w" cx="31" cy="12" rx="13" ry="4.5"/><text x="31" y="11.7"><tspan class="b">inp_pos-5</tspan><tspan x="31" dy="2">(768, 7, 1, 1) f32</tspan></text></g>
<g id="c1c_1"><ellipse class="w" cx="18" cy="26" rx="13" ry="4.5"/><text x="18" y="25.7"><tspan class="b">pos_embd-5</tspan><tspan x="18" dy="2">(768, 7, 1, 1) f32</tspan></text></g>
<g id="c1c_2"><ellipse class="w" cx="44" cy="26" rx="13" ry="4.5"/><text x="44" y="25.7"><tspan class="b">inp_embd-5</tspan><tspan x="44" dy="2">(768, 7, 1, 1) f32</tspan></text></g>
<g id="c1c_3"><ellipse class="w" cx="14" cy="43" rx="13" ry="4.5"/><text x="14" y="42.7"><tspan class="b">view-5</tspan><tspan x="14" dy="2">(768, 7, 1, 1) f32</tspan></text></g>
<g id="c1c_4"><ellipse class="g" cx="44" cy="43" rx="12" ry="6.5"/><text x="44" y="41.6"><tspan class="b">token_embd.5</tspan><tspan x="44" dy="2">(768, 50257, 1, 1)</tspan><tspan x="44" dy="2">f32 weight</tspan></text></g>
<g id="c1c_5"><ellipse class="g" cx="14" cy="64" rx="12" ry="6.5"/><text x="14" y="62.6"><tspan class="b">position_embd.5</tspan><tspan x="14" dy="2">(768, 1024, 1, 1)</tspan><tspan x="14" dy="2">f32 weight</tspan></text></g>
</g>
<g id="wbc1"><rect class="wb" x="38" y="1480" width="22" height="10"/><text x="49" y="1482.8"><tspan class="b">kq_mask-5</tspan><tspan x="49" dy="2.2">(32, 32, 1, 1) f32</tspan><tspan x="49" dy="2.2">input</tspan></text></g>
<g id="gbc"><rect class="gb" x="63" y="1480" width="44" height="15"/><text x="85" y="1482.6"><tspan class="b">attn_inp-5 (f32)</tspan><tspan x="85" dy="2.6">(768, 7, 1, 1)</tspan><tspan x="85" dy="2.6">ggml_add(pos_embd-5, inp_embd-5) = (768, 7, 1, 1) f32</tspan><tspan x="85" dy="2.6">backend = CPU, view = false</tspan><tspan x="85" dy="2.6">attn_inp</tspan></text></g>
<g id="wbc2"><rect class="wb" x="110" y="1483" width="20" height="9"/><text x="120" y="1485.6"><tspan class="b">inp_pos-5</tspan><tspan x="120" dy="2.1">(7, 1, 1, 1) i32</tspan><tspan x="120" dy="2.1">input</tspan></text></g>
<g id="c3c" transform="translate(34,1495)"><rect class="cl" width="103" height="177"/><text class="l b" x="1.5" y="2.6">attn.5</text><text class="l" x="1.5" y="4.5">(self attention)</text>
<g id="c3c_0"><ellipse class="w" cx="39" cy="13" rx="14" ry="4.5"/><text x="39" y="12.7"><tspan class="b">l_out-5</tspan><tspan x="39" dy="2">(768, 7, 1, 1) f32</tspan></text></g>
<g id="c3c_1"><ellipse class="w" cx="23" cy="28" rx="14" ry="4.5"/><text x="23" y="27.7"><tspan class="b">ffn_out-5</tspan><tspan x="23" dy="2">(768, 7, 1, 1) f32</tspan></text></g>
<g id="c3c_2"><ellipse class="w" cx="54" cy="28" rx="14" ry="4.5"/><text x="54" y="27.7"><tspan class="b">ffn_inp-5</tspan><tspan x="54" dy="2">(768, 7, 1, 1) f32</tspan></text></g>
<g id="c3c_3"><ellipse class="g" cx="23" cy="44" rx="12" ry="6.5"/><text x="23" y="42.6"><tspan class="b">blk.5.ffn_norm</tspan><tspan x="23" dy="2">(768, 1, 1, 1)</tspan><tspan x="23" dy="2">f32 weight</tspan></text></g>
<g id="c3c_4"><ellipse class="w" cx="50" cy="44" rx="14" ry="4.5"/><text x="50" y="43.7"><tspan class="b">attn_out-5</tspan><tspan x="50" dy="2">(768, 7, 1, 1) f32</tspan></text></g>
<g id="c3c_5"><ellipse class="w" cx="85" cy="44" rx="14" ry="4.5"/><text x="85" y="43.7"><tspan class="b">ffn_norm-5</tspan><tspan x="85" dy="2">(768, 7, 1, 1) f32</tspan></text></g>
<g id="c3c_6"><ellipse class="w" cx="15" cy="62" rx="14" ry="4.5"/><text x="15" y="61.7"><tspan class="b">kqv_out-5</tspan><tspan x="15" dy="2">(768, 7, 1, 1) f32</tspan></text></g>
<g id="c3c_7"><ellipse class="w" cx="52" cy="62" rx="14" ry="4.5"/><text x="52" y="61.7"><tspan class="b">kqv-5</tspan><tspan x="52" dy="2">(64, 7, 12, 1) f32</tspan></text></g>
<g id="c3c_8"><ellipse class="g" cx="85" cy="62" rx="12" ry="6.5"/><text x="85" y="60.6"><tspan class="b">blk.5.attn_norm</tspan><tspan x="85" dy="2">(768, 1, 1, 1)</tspan><tspan x="85" dy="2">f32 weight</tspan></text></g>
<g id="c3c_9"><ellipse class="w" cx="19" cy="78" rx="14" ry="4.5"/><text x="19" y="77.7"><tspan class="b">kqv_merged-5</tspan><tspan x="19" dy="2">(64, 12, 7, 1) f32</tspan></text></g>
<g id="c3c_10"><ellipse class="w" cx="54" cy="78" rx="14" ry="4.5"/><text x="54" y="77.7"><tspan class="b">kq_soft_max-5</tspan><tspan x="54" dy="2">(7, 7, 12, 1) f32</tspan></text></g>
<g id="c3c_11"><ellipse class="w" cx="21" cy="93" rx="14" ry="4.5"/><text x="21" y="92.7"><tspan class="b">v-5</tspan><tspan x="21" dy="2">(7, 64, 12, 1) f32</tspan></text></g>
<g id="c3c_12"><ellipse class="w" cx="56" cy="93" rx="14" ry="4.5"/><text x="56" y="92.7"><tspan class="b">kq-5</tspan><tspan x="56" dy="2">(7, 7, 12, 1) f32</tspan></text></g>
<g id="c3c_13"><ellipse class="w" cx="23" cy="107" rx="14" ry="4.5"/><text x="23" y="106.7"><tspan class="b">Vcur-5</tspan><tspan x="23" dy="2">(768, 7, 1, 1) f32</tspan></text></g>
<g id="c3c_14"><ellipse class="w" cx="53" cy="107" rx="14" ry="4.5"/><text x="53" y="106.7"><tspan class="b">q-5</tspan><tspan x="53" dy="2">(64, 7, 12, 1) f32</tspan></text></g>
<g id="c3c_15"><ellipse class="w" cx="25" cy="123" rx="14" ry="4.5"/><text x="25" y="122.7"><tspan class="b">cache_v-5</tspan><tspan x="25" dy="2">(768, 7, 1, 1) f32</tspan></text></g>
<g id="c3c_16"><ellipse class="g" cx="52" cy="123" rx="12" ry="6.5"/><text x="52" y="121.6"><tspan class="b">blk.5.attn_q</tspan><tspan x="52" dy="2">(768, 768, 1, 1)</tspan><tspan x="52" dy="2">q8_0 weight</tspan></text></g>
<g id="c3c_17"><ellipse class="w" cx="31" cy="139" rx="14" ry="4.5"/><text x="31" y="138.7"><tspan class="b">k-5</tspan><tspan x="31" dy="2">(64, 7, 12, 1) f32</tspan></text></g>
<g id="c3c_18"><ellipse class="w" cx="36" cy="154" rx="14" ry="4.5"/><text x="36" y="153.7"><tspan class="b">Kcur-5</tspan><tspan x="36" dy="2">(768, 7, 1, 1) f32</tspan></text></g>
<g id="c3c_19"><ellipse class="w" cx="42" cy="168" rx="14" ry="4.5"/><text x="42" y="167.7"><tspan class="b">attn_norm-5</tspan><tspan x="42" dy="2">(768, 7, 1, 1) f32</tspan></text></g>
</g>
<g id="gbc2"><rect class="gb" x="48" y="1675" width="69" height="14"/><text x="82.5" y="1677.5"><tspan class="b">l_out-5 (f32)</tspan><tspan x="82.5" dy="2.5">(768, 7, 1, 1)</tspan><tspan x="82.5" dy="2.5">ggml_add(ffn_out-5, attn_inp-5) = (768, 7, 1, 1) f32 contiguous</tspan><tspan x="82.5" dy="2.5">backend = CPU</tspan><tspan x="82.5" dy="2.5">layer_out</tspan></text></g>
</g>

<g id="sd"><rect class="cs" x="27" y="1698" width="183" height="280"/><rect class="cs" x="30" y="1702" width="177" height="273"/><text class="l b" x="31.5" y="1704.6">blk.6</text><text class="l" x="31.5" y="1706.5">(layer group)</text>
<g id="c1d" transform="translate(35,1729)"><rect class="cl" width="64" height="74"/><text class="l b" x="1.5" y="2.6">pos.6</text><text class="l" x="1.5" y="4.5">(embed)</text>
<g id="c1d_0"><ellipse class="w" cx="32" cy="12" rx="13" ry="4.5"/><text x="32" y="11.7"><tspan class="b">inp_pos-6</tspan><tspan x="32" dy="2">(768, 7, 1, 1) f32</tspan></text></g>
<g id="c1d_1"><ellipse class="w" cx="15" cy="26" rx="13" ry="4.5"/><text x="15" y="25.7"><tspan class="b">pos_embd-6</tspan><tspan x="15" dy="2">(768, 7, 1, 1) f32</tspan></text></g>
<g id="c1d_2"><ellipse class="w" cx="45" cy="26" rx="13" ry="4.5"/><text x="45" y="25.7"><tspan class="b">inp_embd-6</tspan><tspan x="45" dy="2">(768, 7, 1, 1) f32</tspan></text></g>
<g id="c1d_3"><ellipse class="g" cx="13" cy="44" rx="12" ry="6.5"/><text x="13" y="42.6"><tspan class="b">position_embd.6</tspan><tspan x="13" dy="2">(768, 1024, 1, 1)</tspan><tspan x="13" dy="2">f32 weight</tspan></text></g>
<g id="c1d_4"><ellipse class="w" cx="45" cy="43" rx="13" ry="4.5"/><text x="45" y="42.7"><tspan class="b">view-6</tspan><tspan x="45" dy="2">(768, 7, 1, 1) f32</tspan></text></g>
<g id="c1d_5"><ellipse class="g" cx="45" cy="64" rx="12" ry="6.5"/><text x="45" y="62.6"><tspan class="b">token_embd.6</tspan><tspan x="45" dy="2">(768, 50257, 1, 1)</tspan><tspan x="45" dy="2">f32 weight</tspan></text></g>
</g>
<g id="wbd1"><rect class="wb" x="102" y="1768" width="23" height="9"/><text x="113.5" y="1770.6"><tspan class="b">kq_mask-6</tspan><tspan x="113.5" dy="2.1">(32, 32, 1, 1) f32</tspan><tspan x="113.5" dy="2.1">input</tspan></text></g>
<g id="wbd2"><rect class="wb" x="128" y="1768" width="22" height="9"/><text x="139" y="1770.6"><tspan class="b">inp_pos-6</tspan><tspan x="139" dy="2.1">(7, 1, 1, 1) i32</tspan><tspan x="139" dy="2.1">input</tspan></text></g>
<g id="gbd"><rect class="gb" x="152" y="1765" width="45" height="15"/><text x="174.5" y="1767.6"><tspan class="b">attn_inp-6 (f32)</tspan><tspan x="174.5" dy="2.6">(768, 7, 1, 1)</tspan><tspan x="174.5" dy="2.6">ggml_add(pos_embd-6, inp_embd-6) = (768, 7, 1, 1) f32</tspan><tspan x="174.5" dy="2.6">backend = CPU, view = false</tspan><tspan x="174.5" dy="2.6">attn_inp</tspan></text></g>
<g id="c3d" transform="translate(102,1781)"><rect class="cl" width="101" height="190"/><text class="l b" x="1.5" y="2.6">attn.6</text><text class="l" x="1.5" y="4.5">(self attention)</text>
<g id="c3d_0"><ellipse class="w" cx="39" cy="13" rx="14" ry="4.5"/><text x="39" y="12.7"><tspan class="b">l_out-6</tspan><tspan x="39" dy="2">(768, 7, 1, 1) f32</tspan></text></g>
<g id="c3d_1"><ellipse class="w" cx="23" cy="28" rx="14" ry="4.5"/><text x="23" y="27.7"><tspan class="b">ffn_out-6</tspan><tspan x="23" dy="2">(768, 7, 1, 1) f32</tspan></text></g>
<g id="c3d_2"><ellipse class="w" cx="54" cy="28" rx="14" ry="4.5"/><text x="54" y="27.7"><tspan class="b">ffn_inp-6</tspan><tspan x="54" dy="2">(768, 7, 1, 1) f32</tspan></text></g>
<g id="c3d_3"><ellipse class="g" cx="23" cy="44" rx="12" ry="6.5"/><text x="23" y="42.6"><tspan class="b">blk.6.ffn_norm</tspan><tspan x="23" dy="2">(768, 1, 1, 1)</tspan><tspan x="23" dy="2">f32 weight</tspan></text></g>
<g id="c3d_4"><ellipse class="w" cx="50" cy="44" rx="14" ry="4.5"/><text x="50" y="43.7"><tspan class="b">attn_out-6</tspan><tspan x="50" dy="2">(768, 7, 1, 1) f32</tspan></text></g>
<g id="c3d_5"><ellipse class="w" cx="85" cy="44" rx="14" ry="4.5"/><text x="85" y="43.7"><tspan class="b">ffn_norm-6</tspan><tspan x="85" dy="2">(768, 7, 1, 1) f32</tspan></text></g>
<g id="c3d_6"><ellipse class="w" cx="15" cy="62" rx="14" ry="4.5"/><text x="15" y="61.7"><tspan class="b">kqv_out-6</tspan><tspan x="15" dy="2">(768, 7, 1, 1) f32</tspan></text></g>
<g id="c3d_7"><ellipse class="w" cx="52" cy="62" rx="14" ry="4.5"/><text x="52" y="61.7"><tspan class="b">kqv-6</tspan><tspan x="52" dy="2">(64, 7, 12, 1) f32</tspan></text></g>
<g id="c3d_8"><ellipse class="g" cx="85" cy="62" rx="12" ry="6.5"/><text x="85" y="60.6"><tspan class="b">blk.6.attn_norm</tspan><tspan x="85" dy="2">(768, 1, 1, 1)</tspan><tspan x="85" dy="2">f32 weight</tspan></text></g>
<g id="c3d_9"><ellipse class="w" cx="19" cy="78" rx="14" ry="4.5"/><text x="19" y="77.7"><tspan class="b">kqv_merged-6</tspan><tspan x="19" dy="2">(64, 12, 7, 1) f32</tspan></text></g>
<g id="c3d_10"><ellipse class="w" cx="54" cy="78" rx="14" ry="4.5"/><text x="54" y="77.7"><tspan class="b">kq_soft_max-6</tspan><tspan x="54" dy="2">(7, 7, 12, 1) f32</tspan></text></g>
<g id="c3d_11"><ellipse class="w" cx="21" cy="93" rx="14" ry="4.5"/><text x="21" y="92.7"><tspan class="b">v-6</tspan><tspan x="21" dy="2">(7, 64, 12, 1) f32</tspan></text></g>
<g id="c3d_12"><ellipse class="w" cx="56" cy="93" rx="14" ry="4.5"/><text x="56" y="92.7"><tspan class="b">kq-6</tspan><tspan x="56" dy="2">(7, 7, 12, 1) f32</tspan></text></g>
<g id="c3d_13"><ellipse class="w" cx="23" cy="107" rx="14" ry="4.5"/><text x="23" y="106.7"><tspan class="b">Vcur-6</tspan><tspan x="23" dy="2">(768, 7, 1, 1) f32</tspan></text></g>
<g id="c3d_14"><ellipse class="w" cx="53" cy="107" rx="14" ry="4.5"/><text x="53" y="106.7"><tspan class="b">q-6</tspan><tspan x="53" dy="2">(64, 7, 12, 1) f32</tspan></text></g>
<g id="c3d_15"><ellipse class="w" cx="25" cy="123" rx="14" ry="4.5"/><text x="25" y="122.7"><tspan class="b">cache_v-6</tspan><tspan x="25" dy="2">(768, 7, 1, 1) f32</tspan></text></g>
<g id="c3d_16"><ellipse class="g" cx="52" cy="123" rx="12" ry="6.5"/><text x="52" y="121.6"><tspan class="b">blk.6.attn_q</tspan><tspan x="52" dy="2">(768, 768, 1, 1)</tspan><tspan x="52" dy="2">q8_0 weight</tspan></text></g>
<g id="c3d_17"><ellipse class="w" cx="31" cy="139" rx="14" ry="4.5"/><text x="31" y="138.7"><tspan class="b">k-6</tspan><tspan x="31" dy="2">(64, 7, 12, 1) f32</tspan></text></g>
<g id="c3d_18"><ellipse class="w" cx="36" cy="154" rx="14" ry="4.5"/><text x="36" y="153.7"><tspan class="b">Kcur-6</tspan><tspan x="36" dy="2">(768, 7, 1, 1) f32</tspan></text></g>
<g id="c3d_19"><ellipse class="w" cx="42" cy="168" rx="14" ry="4.5"/><text x="42" y="167.7"><tspan class="b">attn_norm-6</tspan><tspan x="42" dy="2">(768, 7, 1, 1) f32</tspan></text></g>
</g>
</g>

<g id="sr"><rect class="cs" x="212" y="1746" width="113" height="234"/><rect class="cs" x="215" y="1751" width="107" height="226"/><text class="l b" x="213.5" y="1748.6">blk.7</text><text class="l" x="216.5" y="1753.6">(layer group)</text>
<g id="c3r" transform="translate(218,1762)"><rect class="cl" width="103" height="190"/><text class="l b" x="1.5" y="2.6">attn.7</text><text class="l" x="1.5" y="4.5">(self attention)</text>
<g id="c3r_0"><ellipse class="w" cx="39" cy="13" rx="14" ry="4.5"/><text x="39" y="12.7"><tspan class="b">l_out-7</tspan><tspan x="39" dy="2">(768, 7, 1, 1) f32</tspan></text></g>
<g id="c3r_1"><ellipse class="w" cx="23" cy="28" rx="14" ry="4.5"/><text x="23" y="27.7"><tspan class="b">ffn_out-7</tspan><tspan x="23" dy="2">(768, 7, 1, 1) f32</tspan></text></g>
<g id="c3r_2"><ellipse class="w" cx="54" cy="28" rx="14" ry="4.5"/><text x="54" y="27.7"><tspan class="b">ffn_inp-7</tspan><tspan x="54" dy="2">(768, 7, 1, 1) f32</tspan></text></g>
<g id="c3r_3"><ellipse class="g" cx="23" cy="44" rx="12" ry="6.5"/><text x="23" y="42.6"><tspan class="b">blk.7.ffn_norm</tspan><tspan x="23" dy="2">(768, 1, 1, 1)</tspan><tspan x="23" dy="2">f32 weight</tspan></text></g>
<g id="c3r_4"><ellipse class="w" cx="50" cy="44" rx="14" ry="4.5"/><text x="50" y="43.7"><tspan class="b">attn_out-7</tspan><tspan x="50" dy="2">(768, 7, 1, 1) f32</tspan></text></g>
<g id="c3r_5"><ellipse class="w" cx="85" cy="44" rx="14" ry="4.5"/><text x="85" y="43.7"><tspan class="b">ffn_norm-7</tspan><tspan x="85" dy="2">(768, 7, 1, 1) f32</tspan></text></g>
<g id="c3r_6"><ellipse class="w" cx="15" cy="62" rx="14" ry="4.5"/><text x="15" y="61.7"><tspan class="b">kqv_out-7</tspan><tspan x="15" dy="2">(768, 7, 1, 1) f32</tspan></text></g>
<g id="c3r_7"><ellipse class="w" cx="52" cy="62" rx="14" ry="4.5"/><text x="52" y="61.7"><tspan class="b">kqv-7</tspan><tspan x="52" dy="2">(64, 7, 12, 1) f32</tspan></text></g>
<g id="c3r_8"><ellipse class="g" cx="85" cy="62" rx="12" ry="6.5"/><text x="85" y="60.6"><tspan class="b">blk.7.attn_norm</tspan><tspan x="85" dy="2">(768, 1, 1, 1)</tspan><tspan x="85" dy="2">f32 weight</tspan></text></g>
<g id="c3r_9"><ellipse class="w" cx="19" cy="78" rx="14" ry="4.5"/><text x="19" y="77.7"><tspan class="b">kqv_merged-7</tspan><tspan x="19" dy="2">(64, 12, 7, 1) f32</tspan></text></g>
<g id="c3r_10"><ellipse class="w" cx="54" cy="78" rx="14" ry="4.5"/><text x="54" y="77.7"><tspan class="b">kq_soft_max-7</tspan><tspan x="54" dy="2">(7, 7, 12, 1) f32</tspan></text></g>
<g id="c3r_11"><ellipse class="w" cx="21" cy="93" rx="14" ry="4.5"/><text x="21" y="92.7"><tspan class="b">v-7</tspan><tspan x="21" dy="2">(7, 64, 12, 1) f32</tspan></text></g>
<g id="c3r_12"><ellipse class="w" cx="56" cy="93" rx="14" ry="4.5"/><text x="56" y="92.7"><tspan class="b">kq-7</tspan><tspan x="56" dy="2">(7, 7, 12, 1) f32</tspan></text></g>
<g id="c3r_13"><ellipse class="w" cx="23" cy="107" rx="14" ry="4.5"/><text x="23" y="106.7"><tspan class="b">Vcur-7</tspan><tspan x="23" dy="2">(768, 7, 1, 1) f32</tspan></text></g>
<g id="c3r_14"><ellipse class="w" cx="53" cy="107" rx="14" ry="4.5"/><text x="53" y="106.7"><tspan class="b">q-7</tspan><tspan x="53" dy="2">(64, 7, 12, 1) f32</tspan></text></g>
<g id="c3r_15"><ellipse class="w" cx="25" cy="123" rx="14" ry="4.5"/><text x="25" y="122.7"><tspan class="b">cache_v-7</tspan><tspan x="25" dy="2">(768, 7, 1, 1) f32</tspan></text></g>
<g id="c3r_16"><ellipse class="g" cx="52" cy="123" rx="12" ry="6.5"/><text x="52" y="121.6"><tspan class="b">blk.7.attn_q</tspan><tspan x="52" dy="2">(768, 768, 1, 1)</tspan><tspan x="52" dy="2">q8_0 weight</tspan></text></g>
<g id="c3r_17"><ellipse class="w" cx="31" cy="139" rx="14" ry="4.5"/><text x="31" y="138.7"><tspan class="b">k-7</tspan><tspan x="31" dy="2">(64, 7, 12, 1) f32</tspan></text></g>
<g id="c3r_18"><ellipse class="w" cx="36" cy="154" rx="14" ry="4.5"/><text x="36" y="153.7"><tspan class="b">Kcur-7</tspan><tspan x="36" dy="2">(768, 7, 1, 1) f32</tspan></text></g>
<g id="c3r_19"><ellipse class="w" cx="42" cy="168" rx="14" ry="4.5"/><text x="42" y="167.7"><tspan class="b">attn_norm-7</tspan><tspan x="42" dy="2">(768, 7, 1, 1) f32</tspan></text></g>
</g>
<g id="gbr"><rect class="gb" x="252" y="1958" width="58" height="15"/><text x="281" y="1960.6"><tspan class="b">l_out-7 (f32)</tspan><tspan x="281" dy="2.6">(768, 7, 1, 1)</tspan><tspan x="281" dy="2.6">ggml_add(ffn_out-7, attn_inp-7) = (768, 7, 1, 1) f32 contiguous</tspan><tspan x="281" dy="2.6">backend = CPU</tspan><tspan x="281" dy="2.6">layer_out</tspan></text></g>
</g>

<g id="wbl"><rect class="wb" x="1" y="1863" width="22" height="9"/><text x="12" y="1865.6"><tspan class="b">inp_mask</tspan><tspan x="12" dy="2.1">(32, 32, 1, 1) f32</tspan><tspan x="12" dy="2.1">input</tspan></text></g>
<g id="gbrr"><rect class="gb" x="335" y="1862" width="60" height="15"/><text x="365" y="1864.6"><tspan class="b">result_norm (f32)</tspan><tspan x="365" dy="2.6">(768, 7, 1, 1)</tspan><tspan x="365" dy="2.6">ggml_norm(l_out-7) = (768, 7, 1, 1) f32</tspan><tspan x="365" dy="2.6">backend = CPU</tspan><tspan x="365" dy="2.6">output_norm</tspan></text></g>

<g id="fin" transform="translate(243,1983)"><rect class="ck" width="103" height="175"/><text class="l b" x="1.5" y="2.6">output</text><text class="l" x="1.5" y="4.5">(lm head)</text>
<g id="fin_0"><ellipse class="w" cx="39" cy="13" rx="14" ry="4.5"/><text x="39" y="12.7"><tspan class="b">l_out-8</tspan><tspan x="39" dy="2">(768, 7, 1, 1) f32</tspan></text></g>
<g id="fin_1"><ellipse class="w" cx="23" cy="28" rx="14" ry="4.5"/><text x="23" y="27.7"><tspan class="b">ffn_out-8</tspan><tspan x="23" dy="2">(768, 7, 1, 1) f32</tspan></text></g>
<g id="fin_2"><ellipse class="w" cx="54" cy="28" rx="14" ry="4.5"/><text x="54" y="27.7"><tspan class="b">ffn_inp-8</tspan><tspan x="54" dy="2">(768, 7, 1, 1) f32</tspan></text></g>
<g id="fin_3"><ellipse class="g" cx="23" cy="44" rx="12" ry="6.5"/><text x="23" y="42.6"><tspan class="b">blk.8.ffn_norm</tspan><tspan x="23" dy="2">(768, 1, 1, 1)</tspan><tspan x="23" dy="2">f32 weight</tspan></text></g>
<g id="fin_4"><ellipse class="w" cx="50" cy="44" rx="14" ry="4.5"/><text x="50" y="43.7"><tspan class="b">attn_out-8</tspan><tspan x="50" dy="2">(768, 7, 1, 1) f32</tspan></text></g>
<g id="fin_5"><ellipse class="w" cx="85" cy="44" rx="14" ry="4.5"/><text x="85" y="43.7"><tspan class="b">ffn_norm-8</tspan><tspan x="85" dy="2">(768, 7, 1, 1) f32</tspan></text></g>
<g id="fin_6"><ellipse class="w" cx="15" cy="62" rx="14" ry="4.5"/><text x="15" y="61.7"><tspan class="b">kqv_out-8</tspan><tspan x="15" dy="2">(768, 7, 1, 1) f32</tspan></text></g>
<g id="fin_7"><ellipse class="w" cx="52" cy="62" rx="14" ry="4.5"/><text x="52" y="61.7"><tspan class="b">kqv-8</tspan><tspan x="52" dy="2">(64, 7, 12, 1) f32</tspan></text></g>
<g id="fin_8"><ellipse class="g" cx="85" cy="62" rx="12" ry="6.5"/><text x="85" y="60.6"><tspan class="b">blk.8.attn_norm</tspan><tspan x="85" dy="2">(768, 1, 1, 1)</tspan><tspan x="85" dy="2">f32 weight</tspan></text></g>
<g id="fin_9"><ellipse class="w" cx="19" cy="78" rx="14" ry="4.5"/><text x="19" y="77.7"><tspan class="b">kqv_merged-8</tspan><tspan x="19" dy="2">(64, 12, 7, 1) f32</tspan></text></g>
<g id="fin_10"><ellipse class="w" cx="54" cy="78" rx="14" ry="4.5"/><text x="54" y="77.7"><tspan class="b">kq_soft_max-8</tspan><tspan x="54" dy="2">(7, 7, 12, 1) f32</tspan></text></g>
<g id="fin_11"><ellipse class="w" cx="21" cy="93" rx="14" ry="4.5"/><text x="21" y="92.7"><tspan class="b">v-8</tspan><tspan x="21" dy="2">(7, 64, 12, 1) f32</tspan></text></g>
<g id="fin_12"><ellipse class="w" cx="56" cy="93" rx="14" ry="4.5"/><text x="56" y="92.7"><tspan class="b">kq-8</tspan><tspan x="56" dy="2">(7, 7, 12, 1) f32</tspan></text></g>
<g id="fin_13"><ellipse class="w" cx="23" cy="107" rx="14" ry="4.5"/><text x="23" y="106.7"><tspan class="b">Vcur-8</tspan><tspan x="23" dy="2">(768, 7, 1, 1) f32</tspan></text></g>
<g id="fin_14"><ellipse class="w" cx="53" cy="107" rx="14" ry="4.5"/><text x="53" y="106.7"><tspan class="b">q-8</tspan><tspan x="53" dy="2">(64, 7, 12, 1) f32</tspan></text></g>
<g id="fin_15"><ellipse class="w" cx="25" cy="123" rx="14" ry="4.5"/><text x="25" y="122.7"><tspan class="b">cache_v-8</tspan><tspan x="25" dy="2">(768, 7, 1, 1) f32</tspan></text></g>
<g id="fin_16"><ellipse class="g" cx="52" cy="123" rx="12" ry="6.5"/><text x="52" y="121.6"><tspan class="b">blk.8.attn_q</tspan><tspan x="52" dy="2">(768, 768, 1, 1)</tspan><tspan x="52" dy="2">q8_0 weight</tspan></text></g>
<g id="fin_17"><ellipse class="w" cx="31" cy="139" rx="14" ry="4.5"/><text x="31" y="138.7"><tspan class="b">k-8</tspan><tspan x="31" dy="2">(64, 7, 12, 1) f32</tspan></text></g>
<g id="fin_18"><ellipse class="w" cx="36" cy="154" rx="14" ry="4.5"/><text x="36" y="153.7"><tspan class="b">Kcur-8</tspan><tspan x="36" dy="2">(768, 7, 1, 1) f32</tspan></text></g>
<g id="fin_19"><ellipse class="w" cx="42" cy="168" rx="14" ry="4.5"/><text x="42" y="167.7"><tspan class="b">attn_norm-8</tspan><tspan x="42" dy="2">(768, 7, 1, 1) f32</tspan></text></g>
</g>
<g id="gbf"><rect class="gb" x="278" y="2160" width="68" height="16"/><text x="312" y="2162.7"><tspan class="b">result_output (f32)</tspan><tspan x="312" dy="2.7">(50257, 7, 1, 1)</tspan><tspan x="312" dy="2.7">ggml_mul_mat(output.weight, result_norm) = (50257, 7, 1, 1) f32 contiguous</tspan><tspan x="312" dy="2.7">backend = CPU, buffer = compute</tspan><tspan x="312" dy="2.7">logits</tspan></text></g>
<g id="n_out"><ellipse cx="312" cy="2187" rx="16.5" ry="6.5" fill="#90ee90" stroke="#6b6" stroke-width=".3"/><text x="312" y="2185.6"><tspan class="b">output</tspan><tspan x="312" dy="2">(50257, 7, 1, 1) f32</tspan><tspan x="312" dy="2">logits</tspan></text></g>
</svg>
